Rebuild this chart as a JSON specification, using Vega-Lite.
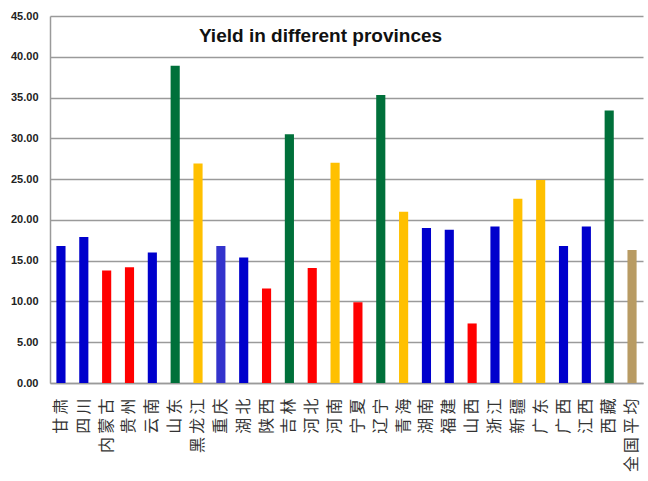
{
  "$schema": "https://vega.github.io/schema/vega-lite/v6.json",
  "autosize": {"type": "none"},
  "padding": {"left": 50, "top": 16, "right": 5, "bottom": 98},
  "width": 593,
  "height": 367,
  "background": "white",
  "title": {
    "text": "Yield in different provinces",
    "font": "Liberation Sans",
    "fontSize": 19,
    "fontWeight": "bold",
    "color": "#111111",
    "anchor": "middle",
    "frame": "group",
    "dx": -26,
    "baseline": "alphabetic",
    "offset": 0,
    "dy": 51
  },
  "data": {
    "values": [
      {"province": "甘肃", "yield": 16.8, "group": "blue"},
      {"province": "四川", "yield": 17.9, "group": "blue"},
      {"province": "内蒙古", "yield": 13.8, "group": "red"},
      {"province": "贵州", "yield": 14.2, "group": "red"},
      {"province": "云南", "yield": 16.0, "group": "blue"},
      {"province": "山东", "yield": 38.9, "group": "green"},
      {"province": "黑龙江", "yield": 26.9, "group": "yellow"},
      {"province": "重庆", "yield": 16.8, "group": "blue2"},
      {"province": "湖北", "yield": 15.4, "group": "blue"},
      {"province": "陕西", "yield": 11.6, "group": "red"},
      {"province": "吉林", "yield": 30.5, "group": "green"},
      {"province": "河北", "yield": 14.1, "group": "red"},
      {"province": "河南", "yield": 27.0, "group": "yellow"},
      {"province": "宁夏", "yield": 9.9, "group": "red"},
      {"province": "辽宁", "yield": 35.3, "group": "green"},
      {"province": "青海", "yield": 21.0, "group": "yellow"},
      {"province": "湖南", "yield": 19.0, "group": "blue"},
      {"province": "福建", "yield": 18.8, "group": "blue"},
      {"province": "山西", "yield": 7.3, "group": "red"},
      {"province": "浙江", "yield": 19.2, "group": "blue"},
      {"province": "新疆", "yield": 22.6, "group": "yellow"},
      {"province": "广东", "yield": 24.9, "group": "yellow"},
      {"province": "广西", "yield": 16.8, "group": "blue"},
      {"province": "江西", "yield": 19.2, "group": "blue"},
      {"province": "西藏", "yield": 33.4, "group": "green"},
      {"province": "全国平均", "yield": 16.3, "group": "avg"}
    ]
  },
  "mark": {"type": "bar"},
  "encoding": {
    "x": {
      "field": "province",
      "type": "nominal",
      "sort": null,
      "scale": {"paddingInner": 0.6, "paddingOuter": 0.28},
      "axis": {
        "title": null,
        "labelAngle": -90,
        "labelAlign": "right",
        "labelBaseline": "middle",
        "labelFont": "Noto Sans CJK SC",
        "labelFontSize": 16,
        "labelExpr": "join(split(datum.label, ''), '\u2009')",
        "labelColor": "#333333",
        "labelPadding": 15,
        "ticks": false,
        "domainColor": "#9a9a9a",
        "domainWidth": 1.5
      }
    },
    "y": {
      "field": "yield",
      "type": "quantitative",
      "scale": {"domain": [0, 45]},
      "axis": {
        "title": null,
        "values": [0, 5, 10, 15, 20, 25, 30, 35, 40, 45],
        "format": ".2f",
        "labelFont": "Liberation Sans",
        "labelFontSize": 11,
        "labelFontWeight": "bold",
        "labelColor": "#222222",
        "labelPadding": 12,
        "ticks": false,
        "grid": true,
        "gridColor": "#9a9a9a",
        "gridWidth": 1.5,
        "domainColor": "#9a9a9a",
        "domainWidth": 1.5
      }
    },
    "color": {
      "field": "group",
      "type": "nominal",
      "legend": null,
      "scale": {
        "domain": ["blue", "blue2", "red", "green", "yellow", "avg"],
        "range": ["#0000CC", "#3333CC", "#FF0000", "#00703A", "#FFC000", "#B89B63"]
      }
    }
  },
  "config": {"view": {"stroke": null}}
}
